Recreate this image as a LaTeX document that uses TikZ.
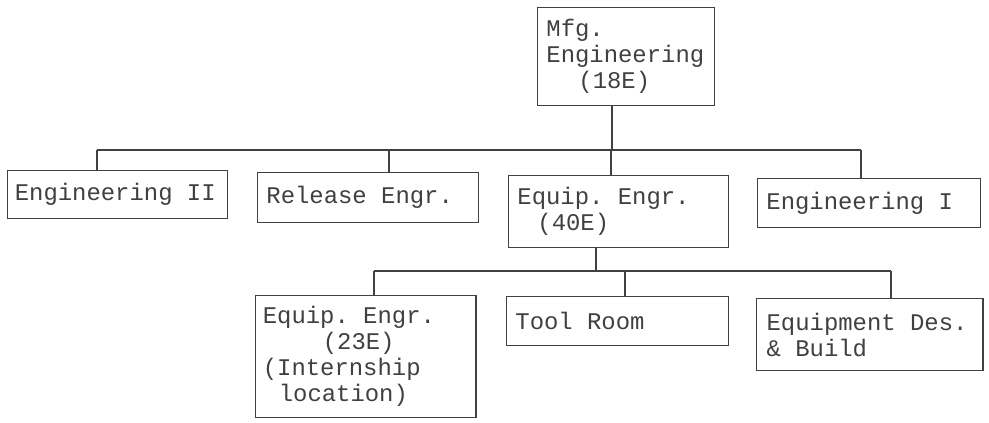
\documentclass[tikz,border=0pt]{standalone}
\usepackage{fontspec}
\setmainfont{Liberation Mono}
\newcommand\boxfont{\fontsize{17}{18.5}\selectfont}
\begin{document}
\begin{tikzpicture}[x=0.025cm, y=-0.025cm,
    every node/.style={font=\boxfont, text=black!75},
    box/.style={draw=black!75, line width=0.9pt, rectangle, anchor=north west, align=left, inner xsep=0.22cm, inner ysep=0pt,
      execute at begin node={\spaceskip=0.6em\xspaceskip=0.6em\relax}},
    link/.style={draw=black!75, line width=0.9pt}]
    \useasboundingbox (0,0) rectangle (989,422);

    % top level
    \node[box, text width=3.98cm, minimum height=2.45cm] (mfg) at (537,7) {Mfg.\\Engineering\\\hspace*{0.8cm}(18E)};

    % second level
    \node[box, text width=5.14cm, minimum height=1.2cm, inner xsep=0.18cm] (eng2) at (7,170) {Engineering II};
    \node[box, text width=5.08cm, minimum height=1.25cm] (rel) at (257,172) {Release Engr.};
    \node[box, text width=5.06cm, minimum height=1.8cm] (eq40) at (508,175) {Equip. Engr.\\\hspace*{0.5cm}(40E)};
    \node[box, text width=5.13cm, minimum height=1.22cm] (eng1) at (757,178) {Engineering I};

    % third level
    \node[box, text width=5.15cm, minimum height=3.05cm, inner xsep=0.18cm] (eq23) at (255,295) {Equip. Engr.\\\hspace*{1.5cm}(23E)\\(Internship\\\hspace*{0.4cm}location)};
    \node[box, text width=5.11cm, minimum height=1.22cm] (tool) at (506,296) {Tool Room};
    \node[box, text width=5.16cm, minimum height=1.8cm, inner xsep=0.25cm] (eqdes) at (756,298) {Equipment Des.\\\& Build};

    % buses
    \coordinate (t1) at (612,150);
    \coordinate (a1) at (97,150);
    \coordinate (a2) at (389,150);
    \coordinate (a3) at (611,150);
    \coordinate (a4) at (861,150);
    \coordinate (t2) at (596,271);
    \coordinate (c1) at (374,271);
    \coordinate (c2) at (625,271);
    \coordinate (c3) at (891,271);

    \draw[link] (mfg.south -| t1) -- (t1);
    \draw[link] (a1) -- (a4);
    \draw[link] (a1) -- (a1 |- eng2.north);
    \draw[link] (a2) -- (a2 |- rel.north);
    \draw[link] (a3) -- (a3 |- eq40.north);
    \draw[link] (a4) -- (a4 |- eng1.north);

    \draw[link] (eq40.south -| t2) -- (t2);
    \draw[link] (c1) -- (c3);
    \draw[link] (c1) -- (c1 |- eq23.north);
    \draw[link] (c2) -- (c2 |- tool.north);
    \draw[link] (c3) -- (c3 |- eqdes.north);
\end{tikzpicture}
\end{document}
